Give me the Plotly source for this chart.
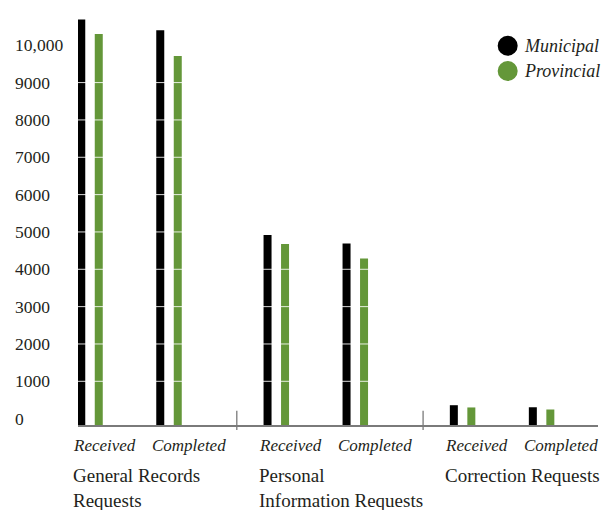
import plotly.graph_objects as go

# ---------------- data ----------------
GROUP_LABELS = ["General Records<br>Requests", "Personal<br>Information Requests", "Correction Requests"]
STAGES = ["Received", "Completed"]
SERIES = ["Municipal", "Provincial"]
MUNICIPAL = [10690, 10400, 4920, 4690, 360, 305]
PROVINCIAL = [10300, 9710, 4680, 4290, 300, 245]
Y_TICKS = [0, 1000, 2000, 3000, 4000, 5000, 6000, 7000, 8000, 9000, 10000]
Y_TICK_LABELS = ["0", "1000", "2000", "3000", "4000", "5000", "6000", "7000", "8000", "9000", "10,000"]

# ---------------- style / layout ----------------
COLORS = ["#000000", "#649739"]
TEXT = "#231f20"
AXIS_GREY = "#7a7a7a"
FONT = "Liberation Serif"
GROUP_STEP = 2.358          # distance between groups, in units of the inner spacing
Y_FLOOR, Y_TOP = -170, 10810
X_MIN, X_MAX = -0.152, 6.43
LABEL_SHIFT = -0.245


def to_paper(x):
    return (x - X_MIN) / (X_MAX - X_MIN)


# category positions built from the group / stage indices
positions = []
for g in range(len(GROUP_LABELS)):
    for s in range(len(STAGES)):
        positions.append(g * GROUP_STEP + s)

fig = go.Figure()
for name, vals, col in zip(SERIES, [MUNICIPAL, PROVINCIAL], COLORS):
    fig.add_trace(go.Bar(
        name=name, x=positions,
        y=[v - Y_FLOOR for v in vals], base=Y_FLOOR,
        customdata=vals, hovertemplate="%{customdata}<extra>" + name + "</extra>",
        marker=dict(color=col, line=dict(width=0)),
        showlegend=False,
    ))

shapes = []
annotations = []

# white grid lines drawn over the bars
for t in Y_TICKS[1:-1]:
    shapes.append(dict(type="line", xref="paper", x0=0, x1=1, yref="y", y0=t, y1=t,
                       line=dict(color="rgba(255,255,255,0.85)", width=1), layer="above"))

# group dividers crossing the axis
for g in range(1, len(GROUP_LABELS)):
    xd = g * GROUP_STEP - 0.5
    shapes.append(dict(type="line", xref="x", x0=xd, x1=xd, yref="paper", y0=0.035, y1=-0.012,
                       line=dict(color=AXIS_GREY, width=1.3), layer="above"))

# y tick labels (left aligned)
for t, lab in zip(Y_TICKS, Y_TICK_LABELS):
    annotations.append(dict(text=lab, xref="paper", x=-0.125, xanchor="left",
                            yref="y", y=t, yanchor="middle", showarrow=False,
                            font=dict(family=FONT, size=17.5, color=TEXT)))

# stage labels (italic) and group labels
for g, glab in enumerate(GROUP_LABELS):
    for s, stage in enumerate(STAGES):
        p = positions[g * len(STAGES) + s]
        annotations.append(dict(text=stage, xref="paper", x=to_paper(p + LABEL_SHIFT), xanchor="left",
                                yref="paper", y=-0.0488, yanchor="middle", showarrow=False,
                                font=dict(family=FONT, size=17, color=TEXT, style="italic")))
    annotations.append(dict(text=glab, xref="paper",
                            x=to_paper(positions[g * len(STAGES)] + LABEL_SHIFT),
                            xanchor="left", align="left",
                            yref="paper", y=-0.092, yanchor="top", showarrow=False,
                            font=dict(family=FONT, size=19, color=TEXT)))

# legend (circles + italic names)
LEG_X = 0.8263
LEG_Y = [0.9249, 0.8634]
for name, col, ly in zip(SERIES, COLORS, LEG_Y):
    shapes.append(dict(type="circle", xref="paper", yref="paper",
                       xsizemode="pixel", ysizemode="pixel",
                       xanchor=LEG_X, yanchor=ly, x0=-10, x1=10, y0=-10, y1=10,
                       fillcolor=col, line=dict(width=0), layer="above"))
    annotations.append(dict(text=name, xref="paper", x=0.853, xanchor="left",
                            yref="paper", y=ly, yanchor="middle", showarrow=False,
                            font=dict(family=FONT, size=18, color=TEXT, style="italic")))

# the page body adds an 8 px margin, so the figure is 8 px smaller and margins shifted
fig.update_layout(
    width=604, height=502,
    margin=dict(l=70, r=14, t=7, b=85),
    paper_bgcolor="white", plot_bgcolor="white",
    barmode="group", bargap=0.557, bargroupgap=0.543,
    showlegend=False,
    shapes=shapes, annotations=annotations,
    xaxis=dict(range=[X_MIN, X_MAX], showgrid=False, zeroline=False,
               showticklabels=False, ticks="", showline=True,
               linecolor=AXIS_GREY, linewidth=1.5),
    yaxis=dict(range=[Y_FLOOR, Y_TOP], showgrid=False, zeroline=False,
               showticklabels=False, ticks="", showline=False),
)

fig.write_html("out.html")
